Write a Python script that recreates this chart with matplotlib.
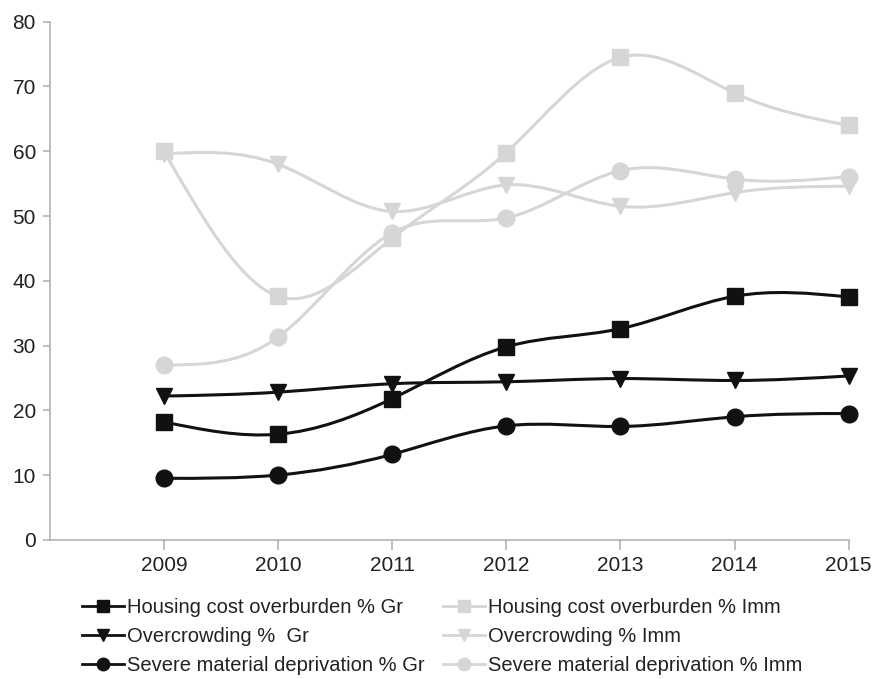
import numpy as np
import matplotlib
matplotlib.use('Agg')
from matplotlib import pyplot as plt
from matplotlib.path import Path
from matplotlib.patches import PathPatch
from matplotlib.lines import Line2D

years = [2009, 2010, 2011, 2012, 2013, 2014, 2015]

housing_gr = [18.2, 16.3, 21.8, 29.8, 32.6, 37.6, 37.5]
overcrowd_gr = [22.2, 22.8, 24.1, 24.4, 24.9, 24.6, 25.3]
severe_gr = [9.5, 10.0, 13.2, 17.6, 17.5, 19.0, 19.5]
housing_imm = [60.0, 37.6, 46.6, 59.8, 74.5, 69.0, 64.0]
overcrowd_imm = [59.6, 58.0, 50.7, 54.8, 51.5, 53.6, 54.6]
severe_imm = [27.0, 31.3, 47.4, 49.7, 57.0, 55.7, 56.1]

labels = ['Housing cost overburden % Gr', 'Overcrowding %  Gr',
          'Severe material deprivation % Gr', 'Housing cost overburden % Imm',
          'Overcrowding % Imm', 'Severe material deprivation % Imm']

plt.rcParams['font.family'] = ['Liberation Sans', 'DejaVu Sans']

dark = '#111111'
light = '#d6d6d6'
series = [
    (housing_gr, dark, 's'),
    (overcrowd_gr, dark, 'v'),
    (severe_gr, dark, 'o'),
    (housing_imm, light, 's'),
    (overcrowd_imm, light, 'v'),
    (severe_imm, light, 'o'),
]


def spline_path(x, y):
    # natural cubic spline slopes -> bezier segments
    x = np.asarray(x, float)
    y = np.asarray(y, float)
    n = len(x)
    h = np.diff(x)
    A = np.zeros((n, n))
    b = np.zeros(n)
    A[0, 0] = 1
    A[-1, -1] = 1
    for i in range(1, n - 1):
        A[i, i - 1] = h[i - 1]
        A[i, i] = 2 * (h[i - 1] + h[i])
        A[i, i + 1] = h[i]
        b[i] = 3 * ((y[i + 1] - y[i]) / h[i] - (y[i] - y[i - 1]) / h[i - 1])
    c = np.linalg.solve(A, b)
    verts = [(x[0], y[0])]
    codes = [Path.MOVETO]
    for i in range(n - 1):
        bi = (y[i + 1] - y[i]) / h[i] - h[i] * (2 * c[i] + c[i + 1]) / 3
        di = (y[i + 1] - y[i]) / h[i] + h[i] * (c[i] + 2 * c[i + 1]) / 3
        verts += [(x[i] + h[i] / 3, y[i] + bi * h[i] / 3),
                  (x[i + 1] - h[i] / 3, y[i + 1] - di * h[i] / 3),
                  (x[i + 1], y[i + 1])]
        codes += [Path.CURVE4] * 3
    return Path(verts, codes)


fig = plt.figure(figsize=(8.74, 6.79), dpi=100)
ax = fig.add_axes([0.057, 0.205, 0.914, 0.763])

# light series first so dark ones sit on top
for vals, col, mk in series[3:] + series[:3]:
    ax.add_patch(PathPatch(spline_path(years, vals), fill=False,
                           edgecolor=col, lw=2.2, clip_on=False))
    ax.plot(years, vals, ls='none', marker=mk, ms=12, color=col,
            mec=col, clip_on=False)

ax.set_xlim(2008, 2015)
ax.set_ylim(0, 80)
ax.set_yticks(range(0, 81, 10))
ax.set_xticks(years)
for s in ['top', 'right']:
    ax.spines[s].set_visible(False)
for s in ['left', 'bottom']:
    ax.spines[s].set_color('#b3b3b3')
    ax.spines[s].set_linewidth(1.2)
ax.tick_params(axis='y', colors='#b3b3b3', labelcolor='#222222',
               labelsize=15, length=5, width=1.2, pad=5)
ax.tick_params(axis='x', colors='#b3b3b3', labelcolor='#222222',
               labelsize=15, length=7, width=1.2, pad=5)

handles = [Line2D([], [], color=col, marker=mk, ms=9, lw=2)
           for vals, col, mk in series]
fig.legend(handles, labels, ncol=2, frameon=False, loc='lower left',
           bbox_to_anchor=(0.073, -0.021), fontsize=14.5, handlelength=2.1,
           handletextpad=0.15, labelspacing=0.5, columnspacing=0.9,
           labelcolor='#222222')

fig.savefig('out.png', dpi=100)
